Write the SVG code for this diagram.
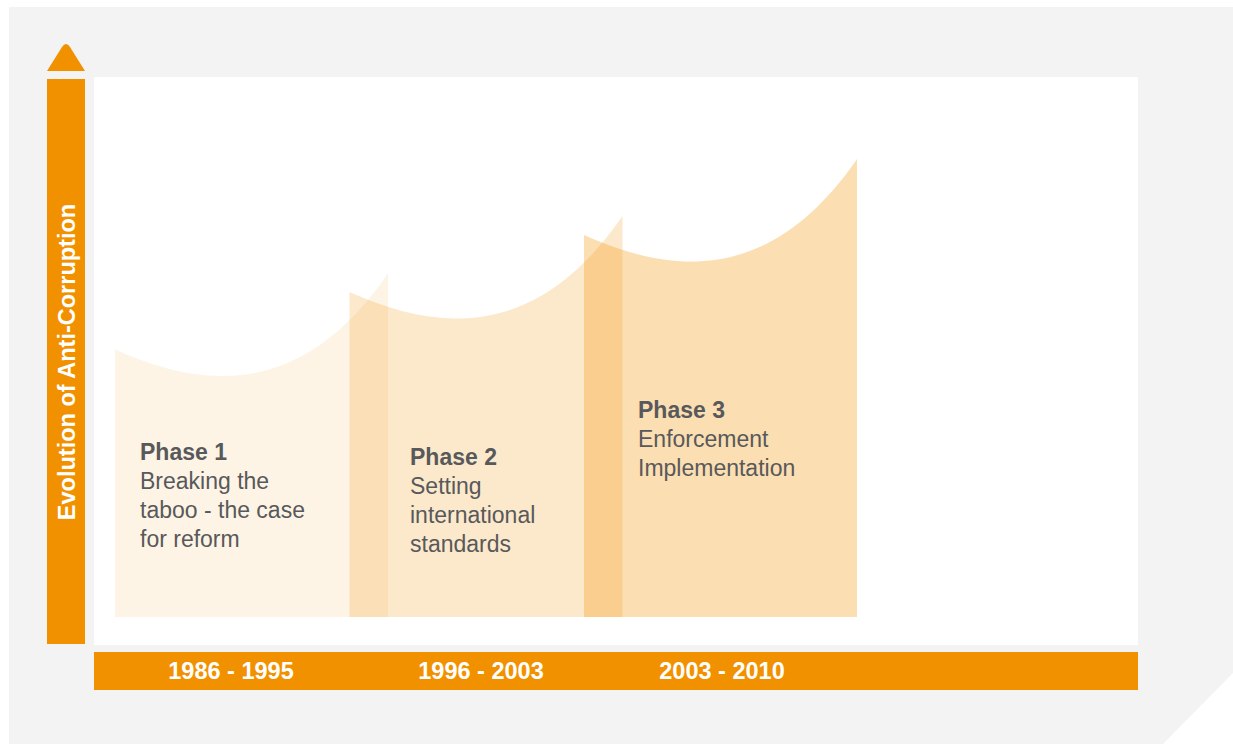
<svg xmlns="http://www.w3.org/2000/svg" width="1233" height="744" viewBox="0 0 1233 744">
<style>
.bg{fill:#f3f3f3}
.or{fill:#f29100}
.ph{fill:#f29100}
.t{font-family:"Liberation Sans",Arial,sans-serif;font-size:23px;fill:#58595b}
.b{font-weight:bold}
.yr{font-family:"Liberation Sans",Arial,sans-serif;font-size:23.5px;font-weight:bold;fill:#ffffff;text-anchor:middle}
.vt{font-family:"Liberation Sans",Arial,sans-serif;font-size:23.5px;font-weight:bold;fill:#ffffff;text-anchor:middle}
</style>
<path class="bg" d="M9,7 H1233 V673 L1163,744 H9 Z"/>
<rect x="94" y="77" width="1044" height="568" fill="#ffffff"/>
<g id="axis-y">
<path class="or" d="M47,71 L62,47 Q66,41 70,47 L85,71 Z"/>
<rect class="or" x="47" y="79" width="38" height="565"/>
<text class="vt" transform="translate(75,362) rotate(-90)">Evolution of Anti-Corruption</text>
</g>
<g id="axis-x">
<rect class="or" x="94" y="652" width="1044" height="38"/>
<text class="yr" x="231" y="679">1986 - 1995</text>
<text class="yr" x="481" y="679">1996 - 2003</text>
<text class="yr" x="722" y="679">2003 - 2010</text>
</g>
<g id="phase1">
<path class="ph" fill-opacity="0.1" d="M115,349.5 C200,387.5 300,401.5 388,273.5 L388,617 L115,617 Z"/>
<text class="t" x="140" y="460"><tspan class="b">Phase 1</tspan><tspan x="140" dy="29">Breaking the</tspan><tspan x="140" dy="29">taboo - the case</tspan><tspan x="140" dy="29">for reform</tspan></text>
</g>
<g id="phase2">
<path class="ph" fill-opacity="0.2" d="M349.5,292 C434.5,330 534.5,344 622.5,216 L622.5,617 L349.5,617 Z"/>
<text class="t" x="410" y="465"><tspan class="b">Phase 2</tspan><tspan x="410" dy="29">Setting</tspan><tspan x="410" dy="29">international</tspan><tspan x="410" dy="29">standards</tspan></text>
</g>
<g id="phase3">
<path class="ph" fill-opacity="0.3" d="M584,235 C669,273 769,287 857,159 L857,617 L584,617 Z"/>
<text class="t" x="638" y="418"><tspan class="b">Phase 3</tspan><tspan x="638" dy="29">Enforcement</tspan><tspan x="638" dy="29">Implementation</tspan></text>
</g>
<g id="connectors"></g>
</svg>
